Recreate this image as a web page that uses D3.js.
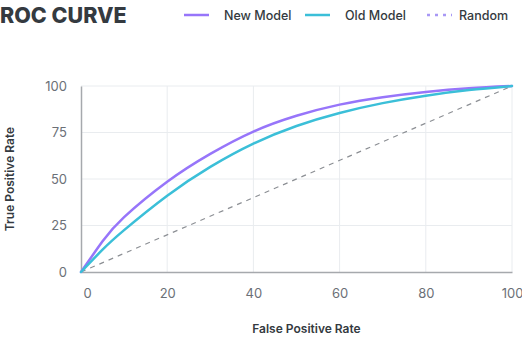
<!DOCTYPE html>
<html>
<head>
<meta charset="utf-8">
<script src="https://cdn.jsdelivr.net/npm/d3@7"></script>
<style>
  html, body { margin: 0; padding: 0; background: #fff; }
  svg { display: block; font-family: "Inter", "Noto Sans", sans-serif; }
</style>
</head>
<body>
<svg id="chart" width="522" height="340"></svg>
<script>
// False positive rate sample points (%)
const fpr = [0, 5, 10, 20, 30, 40, 50, 60, 70, 80, 90, 100];
// True positive rate (%) for each model at the points above
const newModel = [0, 16.5, 29.5, 48.5, 63.5, 75.5, 84, 90, 94, 96.8, 98.8, 100];
const oldModel = [0, 12, 22.5, 41, 56.5, 69, 78.5, 85.5, 90.8, 94.8, 97.8, 100];
const randomLine = [0, 100];
const xTicks = [0, 20, 40, 60, 80, 100];
const yTicks = [0, 25, 50, 75, 100];

const series = [
  { name: "New Model", color: "#9775fa", values: newModel },
  { name: "Old Model", color: "#3bbfd8", values: oldModel }
];

const svg = d3.select("#chart");
const m = { left: 81, right: 10, top: 86, bottom: 68 };
const W = 522, H = 340;

const x = d3.scaleLinear().domain([0, 100]).range([m.left, W - m.right]);
const y = d3.scaleLinear().domain([0, 100]).range([H - m.bottom, m.top]);

// gridlines
svg.append("g").selectAll("line.gx").data(xTicks.slice(1)).join("line")
  .attr("x1", d => x(d)).attr("x2", d => x(d))
  .attr("y1", y(0)).attr("y2", y(100))
  .attr("stroke", "#e9ecef").attr("stroke-width", 1);
svg.append("g").selectAll("line.gy").data(yTicks.slice(1)).join("line")
  .attr("x1", x(0)).attr("x2", x(100))
  .attr("y1", d => y(d)).attr("y2", d => y(d))
  .attr("stroke", "#e9ecef").attr("stroke-width", 1);

// axes
const xAxis = svg.append("g").attr("transform", `translate(0,${y(0)})`)
  .call(d3.axisBottom(x).tickValues(xTicks).tickSize(0).tickPadding(17));
const yAxis = svg.append("g").attr("transform", `translate(${x(0)},0)`)
  .call(d3.axisLeft(y).tickValues(yTicks).tickSize(0).tickPadding(14));
[xAxis, yAxis].forEach(a => {
  a.select(".domain").attr("stroke", "#a6a9ad").attr("stroke-width", 1.5);
  a.selectAll("text").attr("fill", "#6b7077").attr("font-size", 13)
    .attr("font-family", "Inter, sans-serif");
});
xAxis.selectAll("text").filter(d => d === 0).attr("dx", 6);

// random classifier diagonal
svg.append("line")
  .attr("x1", x(randomLine[0])).attr("y1", y(randomLine[0]))
  .attr("x2", x(randomLine[1])).attr("y2", y(randomLine[1]))
  .attr("stroke", "#8c8f94").attr("stroke-width", 1.2)
  .attr("stroke-dasharray", "5,5");

// model curves
const line = d3.line().x((d, i) => x(fpr[i])).y(d => y(d)).curve(d3.curveNatural);
svg.append("g").selectAll("path").data(series).join("path")
  .attr("d", s => line(s.values))
  .attr("fill", "none").attr("stroke", s => s.color)
  .attr("stroke-width", 2.5).attr("stroke-linecap", "round");

// titles
svg.append("text").attr("x", 0).attr("y", 23)
  .attr("font-size", 21.5).attr("font-weight", 800).attr("fill", "#343a40")
  .text("ROC CURVE");
svg.append("text").attr("x", (x(0) + x(100)) / 2 + 10).attr("y", 333)
  .attr("text-anchor", "middle").attr("font-size", 12).attr("font-weight", 600)
  .attr("fill", "#343a40").text("False Positive Rate");
svg.append("text").attr("transform", `translate(14,${(y(0) + y(100)) / 2}) rotate(-90)`)
  .attr("text-anchor", "middle").attr("font-size", 12).attr("font-weight", 600)
  .attr("fill", "#343a40").text("True Positive Rate");

// legend
const legendItems = [
  { name: "New Model", color: "#9775fa", dash: null, x: 184 },
  { name: "Old Model", color: "#3bbfd8", dash: null, x: 305 },
  { name: "Random", color: "#a898f5", dash: "3,5", x: 427 }
];
const lg = svg.append("g").selectAll("g").data(legendItems).join("g")
  .attr("transform", d => `translate(${d.x},15)`);
lg.append("line").attr("x1", 0).attr("x2", 25).attr("y1", 0).attr("y2", 0)
  .attr("stroke", d => d.color).attr("stroke-width", 2.5)
  .attr("stroke-dasharray", d => d.dash);
lg.append("text").attr("x", d => d.name === "Random" ? 32 : 40).attr("y", 4.5)
  .attr("font-size", 12.5).attr("fill", "#343a40").attr("font-weight", 500)
  .text(d => d.name);
</script>
</body>
</html>
